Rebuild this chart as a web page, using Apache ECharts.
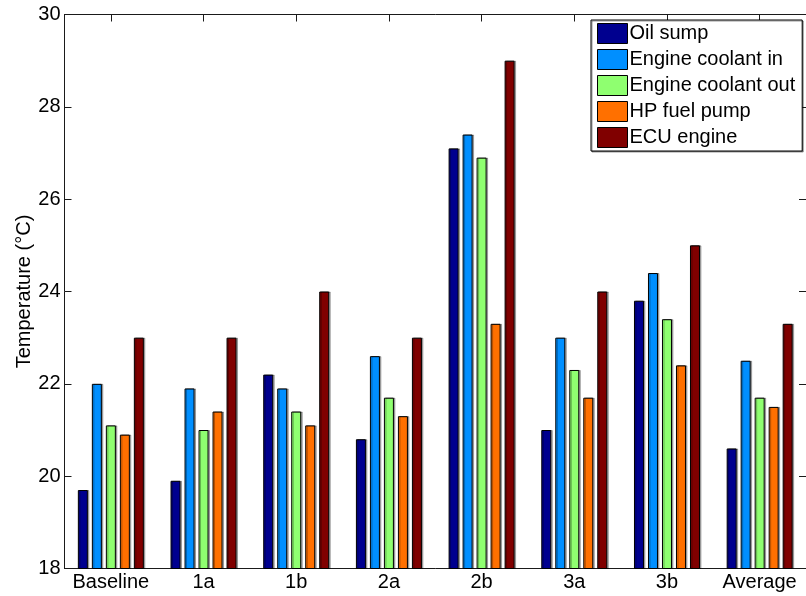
<!DOCTYPE html>
<html>
<head>
<meta charset="utf-8">
<script src="https://cdn.jsdelivr.net/npm/echarts@6/dist/echarts.min.js"></script>
<style>
  html, body { margin: 0; padding: 0; background: #fff; }
  #chart { width: 806px; height: 596px; }
</style>
</head>
<body>
<div id="chart"></div>
<script>
// Test cases on the horizontal axis
const categories = ['Baseline', '1a', '1b', '2a', '2b', '3a', '3b', 'Average'];

// Measured temperatures per sensor (°C)
const oilSump          = [19.7, 19.9, 22.2, 20.8, 27.1, 21.0, 23.8, 20.6];
const engineCoolantIn  = [22.0, 21.9, 21.9, 22.6, 27.4, 23.0, 24.4, 22.5];
const engineCoolantOut = [21.1, 21.0, 21.4, 21.7, 26.9, 22.3, 23.4, 21.7];
const hpFuelPump       = [20.9, 21.4, 21.1, 21.3, 23.3, 21.7, 22.4, 21.5];
const ecuEngine        = [23.0, 23.0, 24.0, 23.0, 29.0, 24.0, 25.0, 23.3];

const seriesNames = ['Oil sump', 'Engine coolant in', 'Engine coolant out', 'HP fuel pump', 'ECU engine'];
const seriesData = [oilSump, engineCoolantIn, engineCoolantOut, hpFuelPump, ecuEngine];
const seriesColors = ['#00008F', '#008FFF', '#8FFF70', '#FF7000', '#800000'];

const FONT = '"Liberation Sans", Arial, Helvetica, sans-serif';
const FS = 20;
const AXIS_COLOR = '#1a1a1a';

const chart = echarts.init(document.getElementById('chart'), null, { renderer: 'canvas' });

const baseCatAxis = {
  type: 'category',
  data: categories,
  boundaryGap: true,
  axisLine: { show: true, onZero: false, lineStyle: { color: AXIS_COLOR, width: 1 } },
  axisTick: { show: true, inside: true, length: 7, interval: 0, alignWithLabel: true, lineStyle: { color: AXIS_COLOR } },
  splitLine: { show: false }
};

const baseValAxis = {
  type: 'value',
  min: 18,
  max: 30,
  interval: 2,
  axisLine: { show: true, lineStyle: { color: AXIS_COLOR, width: 1 } },
  axisTick: { show: true, inside: true, length: 7, lineStyle: { color: AXIS_COLOR } },
  splitLine: { show: false }
};

const option = {
  backgroundColor: '#ffffff',
  animation: false,
  textStyle: { fontFamily: FONT, color: '#000' },
  grid: { left: 64.5, top: 14.5, width: 744.5, height: 554, containLabel: false },
  legend: {
    data: seriesNames,
    orient: 'vertical',
    left: 591,
    top: 20,
    itemWidth: 30,
    itemHeight: 20,
    itemGap: 5,
    padding: [3, 7, 3, 6],
    backgroundColor: '#ffffff',
    borderColor: '#000',
    borderWidth: 1,
    borderRadius: 0,
    shadowColor: 'rgba(0,0,0,0.4)',
    shadowOffsetX: 1,
    shadowOffsetY: 1,
    shadowBlur: 0,
    icon: 'rect',
    itemStyle: { borderColor: '#000', borderWidth: 1, shadowColor: 'transparent', shadowBlur: 0, shadowOffsetX: 0, shadowOffsetY: 0 },
    textStyle: { fontFamily: FONT, fontSize: FS, color: '#000', padding: [0, 0, 0, -3] },
    selectedMode: false
  },
  xAxis: [
    Object.assign({}, baseCatAxis, {
      position: 'bottom',
      axisLabel: { show: true, interval: 0, margin: 4, fontFamily: FONT, fontSize: FS, color: '#000' }
    }),
    Object.assign({}, baseCatAxis, {
      position: 'top',
      axisLabel: { show: false }
    })
  ],
  yAxis: [
    Object.assign({}, baseValAxis, {
      position: 'left',
      name: 'Temperature (°C)',
      nameLocation: 'middle',
      nameGap: 30,
      nameMoveOverlap: false,
      nameTextStyle: { fontFamily: FONT, fontSize: FS, color: '#000' },
      axisLabel: { show: true, margin: 4, fontFamily: FONT, fontSize: FS, color: '#000' }
    }),
    Object.assign({}, baseValAxis, {
      position: 'right',
      axisLabel: { show: false }
    })
  ],
  series: seriesNames.map((name, i) => ({
    name: name,
    type: 'bar',
    xAxisIndex: 0,
    yAxisIndex: 0,
    data: seriesData[i],
    barWidth: 10,
    barGap: '40%',
    itemStyle: {
      color: seriesColors[i],
      borderColor: '#000',
      borderWidth: 1,
      shadowColor: 'rgba(0,0,0,0.3)',
      shadowOffsetX: 1.5,
      shadowOffsetY: 0,
      shadowBlur: 0
    },
    emphasis: { disabled: true }
  }))
};

chart.setOption(option);
</script>
</body>
</html>
